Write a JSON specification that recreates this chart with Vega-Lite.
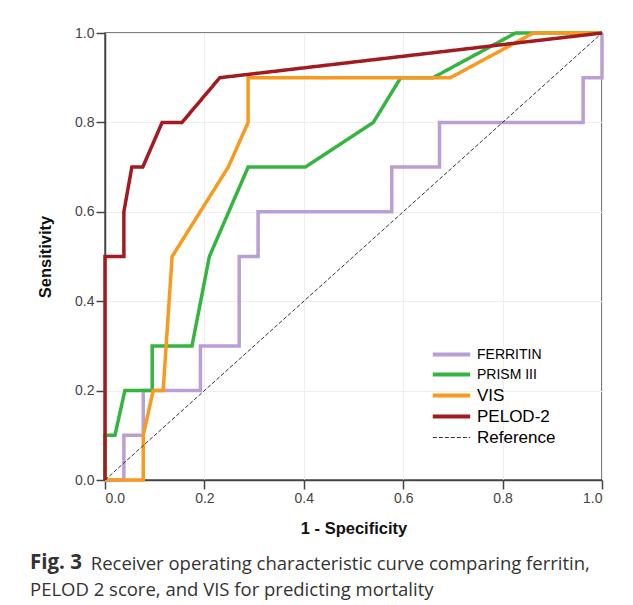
{
  "$schema": "https://vega.github.io/schema/vega-lite/v6.json",
  "width": 497,
  "height": 447,
  "autosize": {"type": "none"},
  "padding": {"left": 105, "top": 33, "right": 31, "bottom": 125},
  "background": "white",
  "config": {
    "view": {"stroke": "#555555", "strokeWidth": 1.5},
    "axis": {
      "labelFont": "Liberation Sans",
      "labelFontSize": 14,
      "labelColor": "#444444",
      "titleFont": "Liberation Sans",
      "titleFontSize": 16.5,
      "titleFontWeight": "bold",
      "titleColor": "#111111",
      "domainColor": "#444444",
      "domainWidth": 1.5,
      "tickColor": "#444444",
      "tickWidth": 1.5,
      "tickSize": 9,
      "labelPadding": 2,
      "gridColor": "#eeeeee",
      "gridWidth": 1
    }
  },
  "title": {
    "text": "Fig. 3",
    "subtitle": ["\u200b\u00a0\u00a0\u00a0\u00a0\u00a0\u00a0\u00a0\u00a0\u00a0\u00a0\u00a0\u2009 Receiver operating characteristic curve comparing ferritin,", "PELOD 2 score, and VIS for predicting mortality"],
    "orient": "bottom",
    "anchor": "start",
    "frame": "group",
    "dx": -75,
    "offset": 16,
    "font": "Open Sans",
    "fontSize": 20.5,
    "fontWeight": "bold",
    "color": "#333333",
    "subtitleFont": "Open Sans",
    "subtitleFontSize": 18.5,
    "subtitleFontWeight": "normal",
    "subtitleColor": "#333333",
    "subtitleLineHeight": 26,
    "subtitlePadding": -18
  },
  "data": {
    "values": [
      {"s": "FERRITIN", "i": 0, "x": 0, "y": 0},
      {"s": "FERRITIN", "i": 1, "x": 0.038, "y": 0},
      {"s": "FERRITIN", "i": 2, "x": 0.038, "y": 0.1},
      {"s": "FERRITIN", "i": 3, "x": 0.077, "y": 0.1},
      {"s": "FERRITIN", "i": 4, "x": 0.077, "y": 0.2},
      {"s": "FERRITIN", "i": 5, "x": 0.192, "y": 0.2},
      {"s": "FERRITIN", "i": 6, "x": 0.192, "y": 0.3},
      {"s": "FERRITIN", "i": 7, "x": 0.27, "y": 0.3},
      {"s": "FERRITIN", "i": 8, "x": 0.27, "y": 0.5},
      {"s": "FERRITIN", "i": 9, "x": 0.308, "y": 0.5},
      {"s": "FERRITIN", "i": 10, "x": 0.308, "y": 0.6},
      {"s": "FERRITIN", "i": 11, "x": 0.577, "y": 0.6},
      {"s": "FERRITIN", "i": 12, "x": 0.577, "y": 0.7},
      {"s": "FERRITIN", "i": 13, "x": 0.673, "y": 0.7},
      {"s": "FERRITIN", "i": 14, "x": 0.673, "y": 0.8},
      {"s": "FERRITIN", "i": 15, "x": 0.962, "y": 0.8},
      {"s": "FERRITIN", "i": 16, "x": 0.962, "y": 0.9},
      {"s": "FERRITIN", "i": 17, "x": 1, "y": 0.9},
      {"s": "FERRITIN", "i": 18, "x": 1, "y": 1},
      {"s": "PRISM III", "i": 0, "x": 0, "y": 0},
      {"s": "PRISM III", "i": 1, "x": 0, "y": 0.1},
      {"s": "PRISM III", "i": 2, "x": 0.02, "y": 0.1},
      {"s": "PRISM III", "i": 3, "x": 0.04, "y": 0.2},
      {"s": "PRISM III", "i": 4, "x": 0.095, "y": 0.2},
      {"s": "PRISM III", "i": 5, "x": 0.095, "y": 0.3},
      {"s": "PRISM III", "i": 6, "x": 0.175, "y": 0.3},
      {"s": "PRISM III", "i": 7, "x": 0.21, "y": 0.5},
      {"s": "PRISM III", "i": 8, "x": 0.288, "y": 0.7},
      {"s": "PRISM III", "i": 9, "x": 0.403, "y": 0.7},
      {"s": "PRISM III", "i": 10, "x": 0.54, "y": 0.8},
      {"s": "PRISM III", "i": 11, "x": 0.595, "y": 0.9},
      {"s": "PRISM III", "i": 12, "x": 0.66, "y": 0.9},
      {"s": "PRISM III", "i": 13, "x": 0.826, "y": 1},
      {"s": "PRISM III", "i": 14, "x": 1, "y": 1},
      {"s": "VIS", "i": 0, "x": 0, "y": 0},
      {"s": "VIS", "i": 1, "x": 0.077, "y": 0},
      {"s": "VIS", "i": 2, "x": 0.077, "y": 0.1},
      {"s": "VIS", "i": 3, "x": 0.097, "y": 0.2},
      {"s": "VIS", "i": 4, "x": 0.117, "y": 0.2},
      {"s": "VIS", "i": 5, "x": 0.135, "y": 0.5},
      {"s": "VIS", "i": 6, "x": 0.248, "y": 0.7},
      {"s": "VIS", "i": 7, "x": 0.288, "y": 0.8},
      {"s": "VIS", "i": 8, "x": 0.288, "y": 0.9},
      {"s": "VIS", "i": 9, "x": 0.695, "y": 0.9},
      {"s": "VIS", "i": 10, "x": 0.862, "y": 1},
      {"s": "VIS", "i": 11, "x": 1, "y": 1},
      {"s": "PELOD-2", "i": 0, "x": 0, "y": 0},
      {"s": "PELOD-2", "i": 1, "x": 0, "y": 0.5},
      {"s": "PELOD-2", "i": 2, "x": 0.038, "y": 0.5},
      {"s": "PELOD-2", "i": 3, "x": 0.038, "y": 0.6},
      {"s": "PELOD-2", "i": 4, "x": 0.054, "y": 0.7},
      {"s": "PELOD-2", "i": 5, "x": 0.076, "y": 0.7},
      {"s": "PELOD-2", "i": 6, "x": 0.115, "y": 0.8},
      {"s": "PELOD-2", "i": 7, "x": 0.155, "y": 0.8},
      {"s": "PELOD-2", "i": 8, "x": 0.231, "y": 0.9},
      {"s": "PELOD-2", "i": 9, "x": 1, "y": 1},
      {"s": "Reference", "i": 0, "x": 0, "y": 0},
      {"s": "Reference", "i": 1, "x": 1, "y": 1}
    ]
  },
  "encoding": {
    "x": {
      "field": "x", "type": "quantitative",
      "scale": {"domain": [0, 1], "nice": false, "zero": false},
      "axis": {"title": "1 - Specificity", "values": [0, 0.2, 0.4, 0.6, 0.8, 1], "format": ".1f", "grid": true, "titlePadding": 15}
    },
    "y": {
      "field": "y", "type": "quantitative",
      "scale": {"domain": [0, 1], "nice": false, "zero": false},
      "axis": {"title": "Sensitivity", "values": [0, 0.2, 0.4, 0.6, 0.8, 1], "format": ".1f", "grid": true, "titlePadding": 21}
    },
    "order": {"field": "i", "type": "quantitative"},
    "color": {
      "field": "s", "type": "nominal",
      "scale": {
        "domain": ["FERRITIN", "PRISM III", "VIS", "PELOD-2", "Reference"],
        "range": ["#b99fd3", "#35b540", "#f99a1f", "#a11b20", "#333333"]
      },
      "legend": {
        "title": null,
        "orient": "none",
        "legendX": 338,
        "legendY": 313,
        "symbolType": "stroke",
        "symbolSize": 1400,
        "labelFont": "Liberation Sans",
        "labelFontSize": 14,
        "labelColor": "#000000",
        "labelOffset": 17,
        "rowPadding": 3,
        "padding": 0,
        "encode": {
          "labels": {
            "update": {
              "fontSize": {"signal": "datum.label === 'FERRITIN' || datum.label === 'PRISM III' ? 14 : 17"}
            }
          },
          "symbols": {
            "update": {
              "strokeWidth": {"signal": "datum.label === 'Reference' ? 1.2 : 4"}
            }
          }
        }
      }
    },
    "strokeDash": {
      "field": "s", "type": "nominal",
      "scale": {
        "domain": ["FERRITIN", "PRISM III", "VIS", "PELOD-2", "Reference"],
        "range": [[1, 0], [1, 0], [1, 0], [1, 0], [4, 2]]
      },
      "legend": {"title": null}
    }
  },
  "layer": [
    {
      "transform": [{"filter": "datum.s !== 'Reference'"}],
      "mark": {"type": "line", "clip": false, "strokeJoin": "miter", "strokeWidth": 3.5}
    },
    {
      "transform": [{"filter": "datum.s === 'Reference'"}],
      "mark": {"type": "line", "clip": false, "strokeWidth": 1}
    }
  ]
}
